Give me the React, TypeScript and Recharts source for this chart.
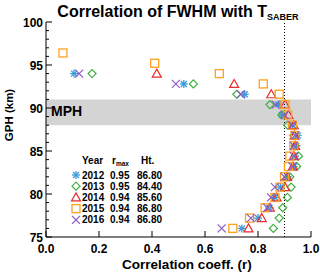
import React from 'react';
import { ScatterChart, Scatter, XAxis, YAxis, ReferenceLine, ReferenceArea } from 'recharts';

// heights (km) shared by every year
const heights = [96.4, 95.2, 94.0, 92.8, 91.6, 90.4, 89.2, 88.0, 86.8, 85.6, 84.4, 83.2, 82.0, 80.8, 79.6, 78.4, 77.2, 76.0];

// correlation per height, null = no point
const r2012 = [null, null, 0.106, 0.52, 0.75, 0.877, 0.89, 0.93, 0.95, 0.945, 0.94, 0.935, 0.912, 0.885, 0.864, 0.843, 0.80, 0.739];
const r2013 = [null, null, 0.174, 0.556, 0.72, 0.845, 0.89, 0.912, 0.935, 0.94, 0.953, 0.946, 0.92, 0.925, 0.911, 0.893, 0.88, 0.858];
const r2014 = [null, null, 0.418, 0.71, 0.85, 0.902, 0.915, 0.935, 0.938, 0.94, 0.935, 0.932, 0.91, 0.902, 0.87, 0.845, 0.814, 0.764];
const r2015 = [0.064, 0.41, 0.654, 0.82, 0.88, 0.902, 0.912, 0.93, 0.94, 0.935, 0.92, 0.915, 0.9, 0.883, 0.864, 0.827, 0.768, 0.705];
const r2016 = [null, null, 0.125, 0.49, 0.735, 0.867, 0.9, 0.93, 0.94, 0.935, 0.935, 0.93, 0.9, 0.864, 0.849, 0.835, 0.773, 0.663];

const years = ['2012', '2013', '2014', '2015', '2016'];
const rMax = ['0.95', '0.95', '0.94', '0.94', '0.94'];
const htMax = ['86.80', '84.40', '85.60', '86.80', '86.80'];

const yTicks = [75, 76, 77, 78, 79, 80, 81, 82, 83, 84, 85, 86, 87, 88, 89, 90, 91, 92, 93, 94, 95, 96, 97, 98, 99, 100];
const xTicks = [0, 0.2, 0.4, 0.6, 0.8, 1.0];

const COLORS = ['#3a9ad9', '#3fae3f', '#ec2b2b', '#ffa01e', '#8a5cc4'];
const FONT = '"Liberation Sans", Arial, Helvetica, sans-serif';
const M = 4;
const ROW = 11.2;

const toPoints = (vals: (number | null)[]) =>
  vals.map((r, i) => ({ r, h: heights[i] })).filter((p) => p.r !== null);

const Marker = ({ kind, cx, cy, color }: { kind: number; cx: number; cy: number; color: string }) => {
  const s = 4;
  if (kind === 0) {
    return (
      <g stroke={color} strokeWidth={1.3}>
        <line x1={cx - s} y1={cy} x2={cx + s} y2={cy} />
        <line x1={cx} y1={cy - s} x2={cx} y2={cy + s} />
        <line x1={cx - 3} y1={cy - 3} x2={cx + 3} y2={cy + 3} />
        <line x1={cx - 3} y1={cy + 3} x2={cx + 3} y2={cy - 3} />
      </g>
    );
  }
  if (kind === 1) {
    return <polygon points={`${cx},${cy - s} ${cx + s},${cy} ${cx},${cy + s} ${cx - s},${cy}`} fill="none" stroke={color} strokeWidth={1.2} />;
  }
  if (kind === 2) {
    return <polygon points={`${cx},${cy - 4.5} ${cx + 4.5},${cy + 3.5} ${cx - 4.5},${cy + 3.5}`} fill="none" stroke={color} strokeWidth={1.2} />;
  }
  if (kind === 3) {
    return <rect x={cx - s} y={cy - s} width={2 * s} height={2 * s} fill="none" stroke={color} strokeWidth={1.3} />;
  }
  return (
    <g stroke={color} strokeWidth={1.2}>
      <line x1={cx - s} y1={cy - s} x2={cx + s} y2={cy + s} />
      <line x1={cx - s} y1={cy + s} x2={cx + s} y2={cy - s} />
    </g>
  );
};

const LeftTick = (props: any) => {
  const { x, y, payload } = props;
  const ax = x + M;
  const major = payload.value % 5 === 0;
  return (
    <g>
      <line x1={ax} y1={y} x2={ax + (major ? 6 : 3)} y2={y} stroke="#000" />
      {major && (
        <text x={ax - 3} y={y + 4.5} textAnchor="end" fontFamily={FONT} fontWeight="bold" fontSize={12} fill="#000">
          {payload.value}
        </text>
      )}
    </g>
  );
};

const RightTick = (props: any) => {
  const { x, y, payload } = props;
  const ax = x - M;
  const major = payload.value % 5 === 0;
  return <line x1={ax} y1={y} x2={ax - (major ? 6 : 3)} y2={y} stroke="#000" />;
};

const BottomTick = (props: any) => {
  const { x, y, payload } = props;
  const ay = y - M;
  return (
    <g>
      <line x1={x} y1={ay} x2={x} y2={ay - 6} stroke="#000" />
      <text x={x} y={ay + 16} textAnchor="middle" fontFamily={FONT} fontWeight="bold" fontSize={12} fill="#000">
        {payload.value.toFixed(1)}
      </text>
    </g>
  );
};

const TopTick = (props: any) => {
  const { x, y } = props;
  const ay = y + M;
  return <line x1={x} y1={ay} x2={x} y2={ay + 6} stroke="#000" />;
};

const series = [r2012, r2013, r2014, r2015, r2016];

export default function App() {
  return (
    <div style={{ position: 'absolute', left: 0, top: 0, width: 320, height: 272, background: '#fff' }}>
      <ScatterChart width={320} height={272} margin={{ top: 22, right: 9, left: 0, bottom: 0 }}>
        <XAxis xAxisId="b" type="number" dataKey="r" domain={[0, 1]} ticks={xTicks} orientation="bottom" height={35}
          tickSize={0} tickMargin={M} tick={<BottomTick />} axisLine={{ stroke: '#000' }} allowDataOverflow />
        <XAxis xAxisId="t" type="number" dataKey="r" domain={[0, 1]} ticks={xTicks} orientation="top" height={0}
          tickSize={0} tickMargin={M} tick={<TopTick />} axisLine={{ stroke: '#000' }} />
        <YAxis yAxisId="l" type="number" dataKey="h" domain={[75, 100]} ticks={yTicks} orientation="left" width={46}
          tickSize={0} tickMargin={M} tick={<LeftTick />} axisLine={{ stroke: '#000' }} interval={0} allowDataOverflow />
        <YAxis yAxisId="r" type="number" dataKey="h" domain={[75, 100]} ticks={yTicks} orientation="right" width={0}
          tickSize={0} tickMargin={M} tick={<RightTick />} axisLine={{ stroke: '#000' }} interval={0} />
        <ReferenceArea xAxisId="b" yAxisId="l" x1={0} x2={1} y1={88} y2={91} fill="#d4d4d4" fillOpacity={1} stroke="none" />
        <ReferenceLine xAxisId="b" yAxisId="l" x={0.9} stroke="#000" strokeDasharray="1 2" />
        {series.map((vals, k) => (
          <Scatter key={years[k]} xAxisId="b" yAxisId="l" data={toPoints(vals)} isAnimationActive={false}
            shape={(p: any) => <Marker kind={k} cx={p.cx} cy={p.cy} color={COLORS[k]} />} />
        ))}
      </ScatterChart>
      <svg width={320} height={272} style={{ position: 'absolute', left: 0, top: 0, pointerEvents: 'none' }}>
        <text x={178} y={17} textAnchor="middle" fontFamily={FONT} fontWeight="bold" fontSize={16} fill="#000">
          Correlation of FWHM with T<tspan fontSize={9} dy={3}>SABER</tspan>
        </text>
        <text transform="translate(13,115) rotate(-90)" textAnchor="middle" fontFamily={FONT} fontWeight="bold" fontSize={11.5} fill="#000">
          GPH (km)
        </text>
        <text x={187} y={269} textAnchor="middle" fontFamily={FONT} fontWeight="bold" fontSize={13.5} fill="#000">
          Correlation coeff. (r)
        </text>
        <text x={51} y={116} fontFamily={FONT} fontWeight="bold" fontSize={14} fill="#000">MPH</text>
        <g fontFamily={FONT} fontWeight="bold" fontSize={10} fill="#000">
          <text x={82} y={164}>Year</text>
          <text x={112} y={164}>r<tspan fontSize={6.5} dy={2}>max</tspan></text>
          <text x={141} y={164}>Ht.</text>
          {years.map((yr, i) => (
            <g key={yr}>
              <Marker kind={i} cx={76} cy={175 + i * ROW} color={COLORS[i]} />
              <text x={82} y={178.5 + i * ROW}>{yr}</text>
              <text x={110} y={178.5 + i * ROW}>{rMax[i]}</text>
              <text x={137} y={178.5 + i * ROW}>{htMax[i]}</text>
            </g>
          ))}
        </g>
      </svg>
    </div>
  );
}
